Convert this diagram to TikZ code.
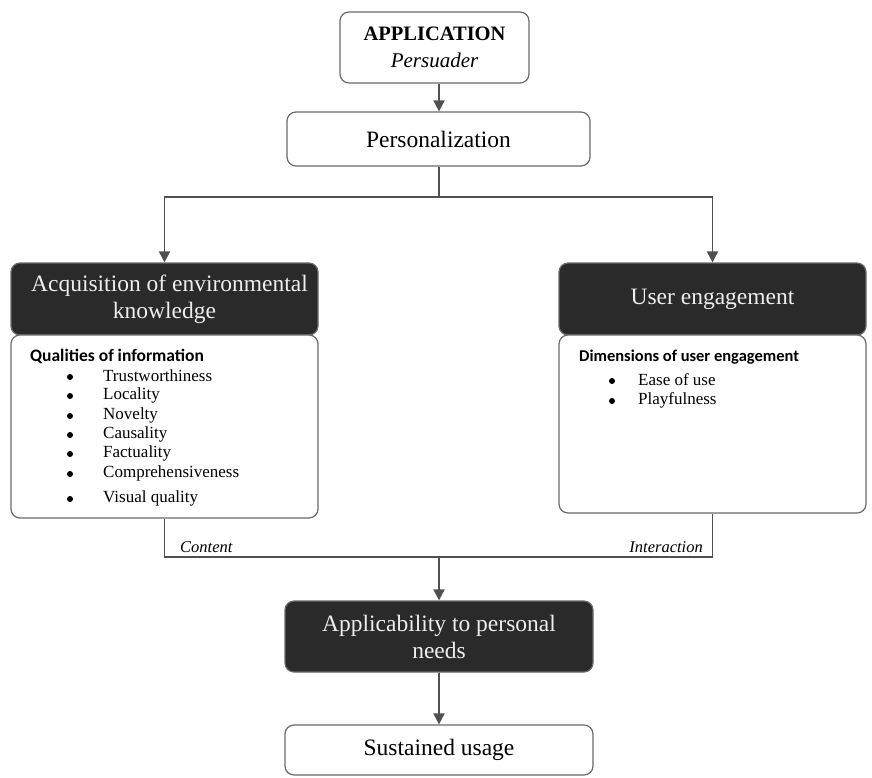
\documentclass[tikz,border=0pt]{standalone}
\usepackage{fontspec}
\setmainfont{Liberation Serif}
\newfontfamily\calib{Carlito}
\usetikzlibrary{arrows.meta}
\definecolor{dk}{HTML}{2A2A2A}
\definecolor{ln}{HTML}{505050}
\definecolor{bd}{HTML}{6A6A6A}
\definecolor{lt}{HTML}{EEEEEE}
\begin{document}
\begin{tikzpicture}[x=1pt,y=-1pt,
 darkbox/.style={draw=bd, line width=1.2pt, fill=dk, rounded corners=9pt, text=lt, align=center, inner sep=0pt,
   font=\fontsize{23.5}{27}\selectfont},
 whitebox/.style={draw=bd, line width=1.2pt, fill=white, rounded corners=9pt, align=center, inner sep=0pt,
   font=\fontsize{23.5}{27}\selectfont},
 conn/.style={draw=ln, line width=1.9pt},
 arr/.style={conn, -{Triangle[width=11pt,length=11pt]}},
 head/.style={anchor=west, inner sep=0pt, font=\calib\bfseries\fontsize{17.5}{20}\selectfont},
 item/.style={anchor=west, inner sep=0pt, font=\fontsize{17}{20}\selectfont},
 lab/.style={inner sep=0pt, font=\itshape\fontsize{16.5}{20}\selectfont}]
\useasboundingbox (0,0) rectangle (872,777);

\node[whitebox, minimum width=189pt, minimum height=71pt] (app) at (434.5,47.5)
  {{\bfseries\fontsize{20.5}{28}\selectfont APPLICATION}\\{\itshape\fontsize{21}{28}\selectfont Persuader}};
\node[whitebox, minimum width=303pt, minimum height=54pt] (pers) at (438.5,139) {Personalization};

\node[darkbox, minimum width=307pt, minimum height=72pt] (acqd) at (164.5,299)
  {\hspace*{10pt}Acquisition of environmental\\knowledge};
\node[whitebox, minimum width=307pt, minimum height=183pt] (acqw) at (164.5,426.5) {};
\node[darkbox, minimum width=307pt, minimum height=72pt] (ued) at (712.5,299) {User engagement};
\node[whitebox, minimum width=307pt, minimum height=178pt] (uew) at (712.5,424) {};

\node[darkbox, minimum width=308pt, minimum height=71pt] (apl) at (439,636.5)
  {Applicability to personal\\needs};
\node[whitebox, minimum width=308pt, minimum height=50pt] (sus) at (439,750) {Sustained usage};

% left list
\node[head] (qh) at (30,356) {Qualities of information};
\foreach \t/\yy [count=\i] in {Trustworthiness/376,Locality/395,Novelty/415,Causality/434,Factuality/453,Comprehensiveness/473,Visual quality/498}{
  \node[item] (ql\i) at (103,\yy) {\t};
  \fill (70,\yy+1) circle (3pt);
}
% right list
\node[head, font=\calib\bfseries\fontsize{16.5}{20}\selectfont] (dh) at (579,357) {Dimensions of user engagement};
\foreach \t/\yy [count=\i] in {Ease of use/380,Playfulness/400}{
  \node[item] (dl\i) at (638,\yy) {\t};
  \fill (612,\yy+1) circle (3pt);
}

% connectors
\draw[arr] (app.south -| apl.north) -- (pers.north -| apl.north);
\coordinate (sp) at (439,197);
\draw[conn] (pers.south -| sp) -- (sp);
\draw[arr] (sp) -| (acqd.north);
\draw[arr] (sp) -| (ued.north);
\coordinate (mg) at (439,557);
\draw[conn] (acqw.south) |- (uew.south |- mg) -- (uew.south);
\draw[arr] (mg) -- (apl.north);
\draw[arr] (apl.south) -- (sus.north);

\node[lab, anchor=south west] (ct) at (180,553) {Content};
\node[lab, anchor=south east] (it) at (703,553) {Interaction};
\end{tikzpicture}
\end{document}
